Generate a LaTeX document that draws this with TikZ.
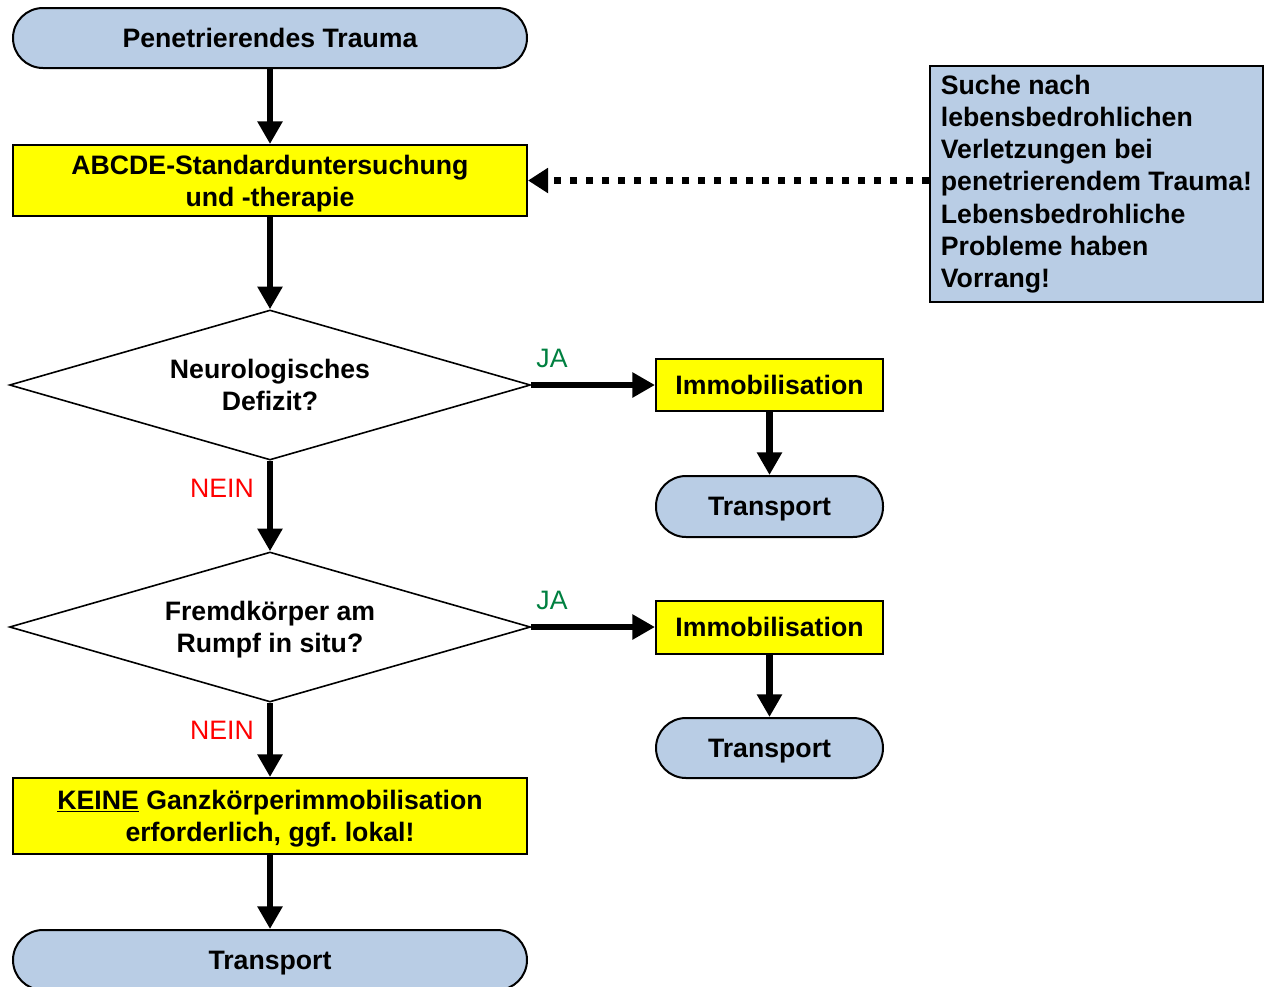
\documentclass[tikz,border=0pt]{standalone}
\usepackage{fontspec}
\setmainfont{Liberation Sans}
\frenchspacing
\usetikzlibrary{arrows.meta,shapes.geometric}
\definecolor{termblue}{RGB}{185,205,229}
\definecolor{boxyellow}{RGB}{255,255,0}
\definecolor{yesgreen}{RGB}{0,128,64}
\definecolor{nored}{RGB}{255,0,0}
\begin{document}
\begin{tikzpicture}[x=0.75pt,y=-0.75pt,
  every node/.style={font=\fontsize{20pt}{24.2pt}\selectfont\bfseries, align=center, inner sep=0pt},
  boxtext/.style={text depth=0pt},
  terminal/.style={boxtext, draw, line width=1.5pt, fill=termblue, rounded corners=22.5pt},
  procbox/.style={boxtext, draw, line width=1.5pt, fill=boxyellow},
  decision/.style={boxtext, diamond, draw, line width=1.2pt, fill=white, aspect=3.47,
    minimum width=390.75pt, minimum height=112.5pt},
  notebox/.style={draw, line width=1.5pt, fill=termblue, align=left,
    minimum width=249.75pt, minimum height=177pt},
  yeslabel/.style={font=\fontsize{20pt}{24.2pt}\selectfont, text=yesgreen},
  nolabel/.style={font=\fontsize{20pt}{24.2pt}\selectfont, text=nored},
  flow/.style={line width=5pt, -{Triangle[length=17pt,width=18pt]}},
  dotflow/.style={line width=5pt, dash pattern=on 5pt off 7pt, -{Triangle[length=15pt,width=18pt]}}
]
\useasboundingbox (0,0) rectangle (1271,986);

% left column
\node[terminal, minimum width=385.5pt, minimum height=45pt] (start) at (270,38) {Penetrierendes Trauma};
\node[procbox, minimum width=385.5pt, minimum height=53.25pt] (abcde) at (270,180.5) {ABCDE-Standarduntersuchung\\und -therapie};
\node[decision] (d1) at (270,385) {Neurologisches\\Defizit?};
\node[decision] (d2) at (270,627) {Fremdkörper am\\Rumpf in situ?};
\node[procbox, minimum width=385.5pt, minimum height=57pt] (keine) at (270,816) {\underline{KEINE} Ganzkörperimmobilisation\\erforderlich, ggf. lokal!};
\node[terminal, minimum width=385.5pt, minimum height=45pt] (tr3) at (270,960) {Transport};

% right branches
\node[procbox, minimum width=170.25pt, minimum height=39pt] (im1) at (769.5,385) {Immobilisation};
\node[terminal, minimum width=170.25pt, minimum height=45.75pt] (tr1) at (769.5,506.5) {Transport};
\node[procbox, minimum width=170.25pt, minimum height=39.75pt] (im2) at (769.5,627) {Immobilisation};
\node[terminal, minimum width=170.25pt, minimum height=45pt] (tr2) at (769.5,748) {Transport};

% note
\node[notebox] (note) at (1096.5,184) {Suche nach\\lebensbedrohlichen\\Verletzungen bei\\penetrierendem Trauma!\\Lebensbedrohliche\\Probleme haben\\Vorrang!};

% branch labels
\node[yeslabel] (ja1) at (552,358) {JA};
\node[yeslabel] (ja2) at (552,600) {JA};
\node[nolabel] (nein1) at (222,488) {NEIN};
\node[nolabel] (nein2) at (222,730) {NEIN};

% connectors
\draw[flow] (start) -- (abcde);
\draw[flow] (abcde) -- (d1);
\draw[flow] (d1) -- (im1);
\draw[flow] (im1) -- (tr1);
\draw[flow] (d1) -- (d2);
\draw[flow] (d2) -- (im2);
\draw[flow] (im2) -- (tr2);
\draw[flow] (d2) -- (keine);
\draw[flow] (keine) -- (tr3);
\draw[dotflow] (note.west |- abcde.east) -- (abcde.east);
\end{tikzpicture}
\end{document}
